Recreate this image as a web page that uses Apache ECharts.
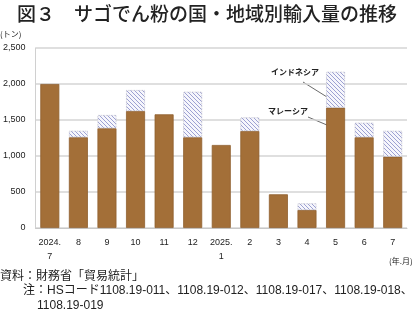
<!DOCTYPE html>
<html><head><meta charset="utf-8">
<script src="https://cdn.jsdelivr.net/npm/echarts@6/dist/echarts.min.js"></script>
<style>html,body{margin:0;padding:0;background:#fff}#c{width:420px;height:327px}</style>
</head><body><div id="c"></div>
<script>
const categories = ['2024.\n7','8','9','10','11','12','2025.\n1','2','3','4','5','6','7'];
const malaysia = [2000,1260,1385,1625,1579,1260,1153,1347,468,250,1671,1260,990];
const indonesia = [null,91,185,292,null,633,null,190,null,93,500,203,361];
const yTicks = [0,500,1000,1500,2000,2500];

const font = '"Liberation Sans", "Noto Sans CJK JP", sans-serif';
const jfont = '"Noto Sans CJK JP", sans-serif';

// hatch pattern tile
const tile = document.createElement('canvas');
tile.width = 4; tile.height = 4;
const g = tile.getContext('2d');
g.fillStyle = '#f6f6fc'; g.fillRect(0,0,4,4);
g.strokeStyle = '#9da1d2'; g.lineWidth = 1;
g.beginPath();
g.moveTo(-1,-1); g.lineTo(5,5);
g.moveTo(-1,3); g.lineTo(1,5);
g.moveTo(3,-1); g.lineTo(5,1);
g.stroke();

const chart = echarts.init(document.getElementById('c'), null, {renderer:'canvas'});
chart.setOption({
  animation:false,
  textStyle:{fontFamily:font},
  grid:{left:32,right:13,top:48,bottom:99},
  xAxis:{type:'category',data:categories,
    axisLine:{lineStyle:{color:'#c8c8c8',width:1}},
    axisTick:{show:false},
    axisLabel:{color:'#222',fontSize:9,lineHeight:14,margin:8,interval:0,fontFamily:font}},
  yAxis:{type:'value',min:yTicks[0],max:yTicks[yTicks.length-1],interval:500,
    axisLine:{show:true,lineStyle:{color:'#d0d0d0',width:1}},
    axisTick:{show:false},
    splitLine:{lineStyle:{color:'#d4d4d4',width:1.5}},
    axisLabel:{color:'#222',fontSize:9,margin:10,fontFamily:font,
      formatter:v=>v.toLocaleString('en-US')}},
  series:[
    {name:'マレーシア',type:'bar',stack:'a',data:malaysia,barWidth:19,
      itemStyle:{color:'#A36F38',borderColor:'#8f5f2e',borderWidth:0.8}},
    {name:'インドネシア',type:'bar',stack:'a',data:indonesia,barWidth:19,
      itemStyle:{color:{image:tile,repeat:'repeat'},borderColor:'#b8b8c8',borderWidth:0.8,borderType:'dotted'}}
  ],
  graphic:[
    {type:'text',left:17,top:4,style:{text:'図３　サゴでん粉の国・地域別輸入量の推移',font:'500 19px '+jfont,fill:'#222'}},
    {type:'text',left:0,top:30,style:{text:'(トン)',font:'8px '+jfont,fill:'#222'}},
    {type:'text',left:389,top:257,style:{text:'(年.月)',font:'8px '+jfont,fill:'#222'}},
    {type:'text',left:271,top:68,style:{text:'インドネシア',font:'bold 8px '+jfont,fill:'#222'}},
    {type:'text',left:268,top:107,style:{text:'マレーシア',font:'bold 8px '+jfont,fill:'#222'}},
    {type:'line',shape:{x1:303,y1:82,x2:335,y2:102},style:{stroke:'#444',lineWidth:0.8}},
    {type:'line',shape:{x1:308,y1:117,x2:334,y2:128},style:{stroke:'#444',lineWidth:0.8}},
    {type:'text',left:0,top:271,style:{text:'資料：財務省「貿易統計」',font:'12px '+font,fill:'#222'}},
    {type:'text',left:23,top:285,style:{text:'注：HSコード1108.19-011、1108.19-012、1108.19-017、1108.19-018、',font:'12px '+font,fill:'#222'}},
    {type:'text',left:37,top:300,style:{text:'1108.19-019',font:'12px '+font,fill:'#222'}}
  ]
});
</script></body></html>
